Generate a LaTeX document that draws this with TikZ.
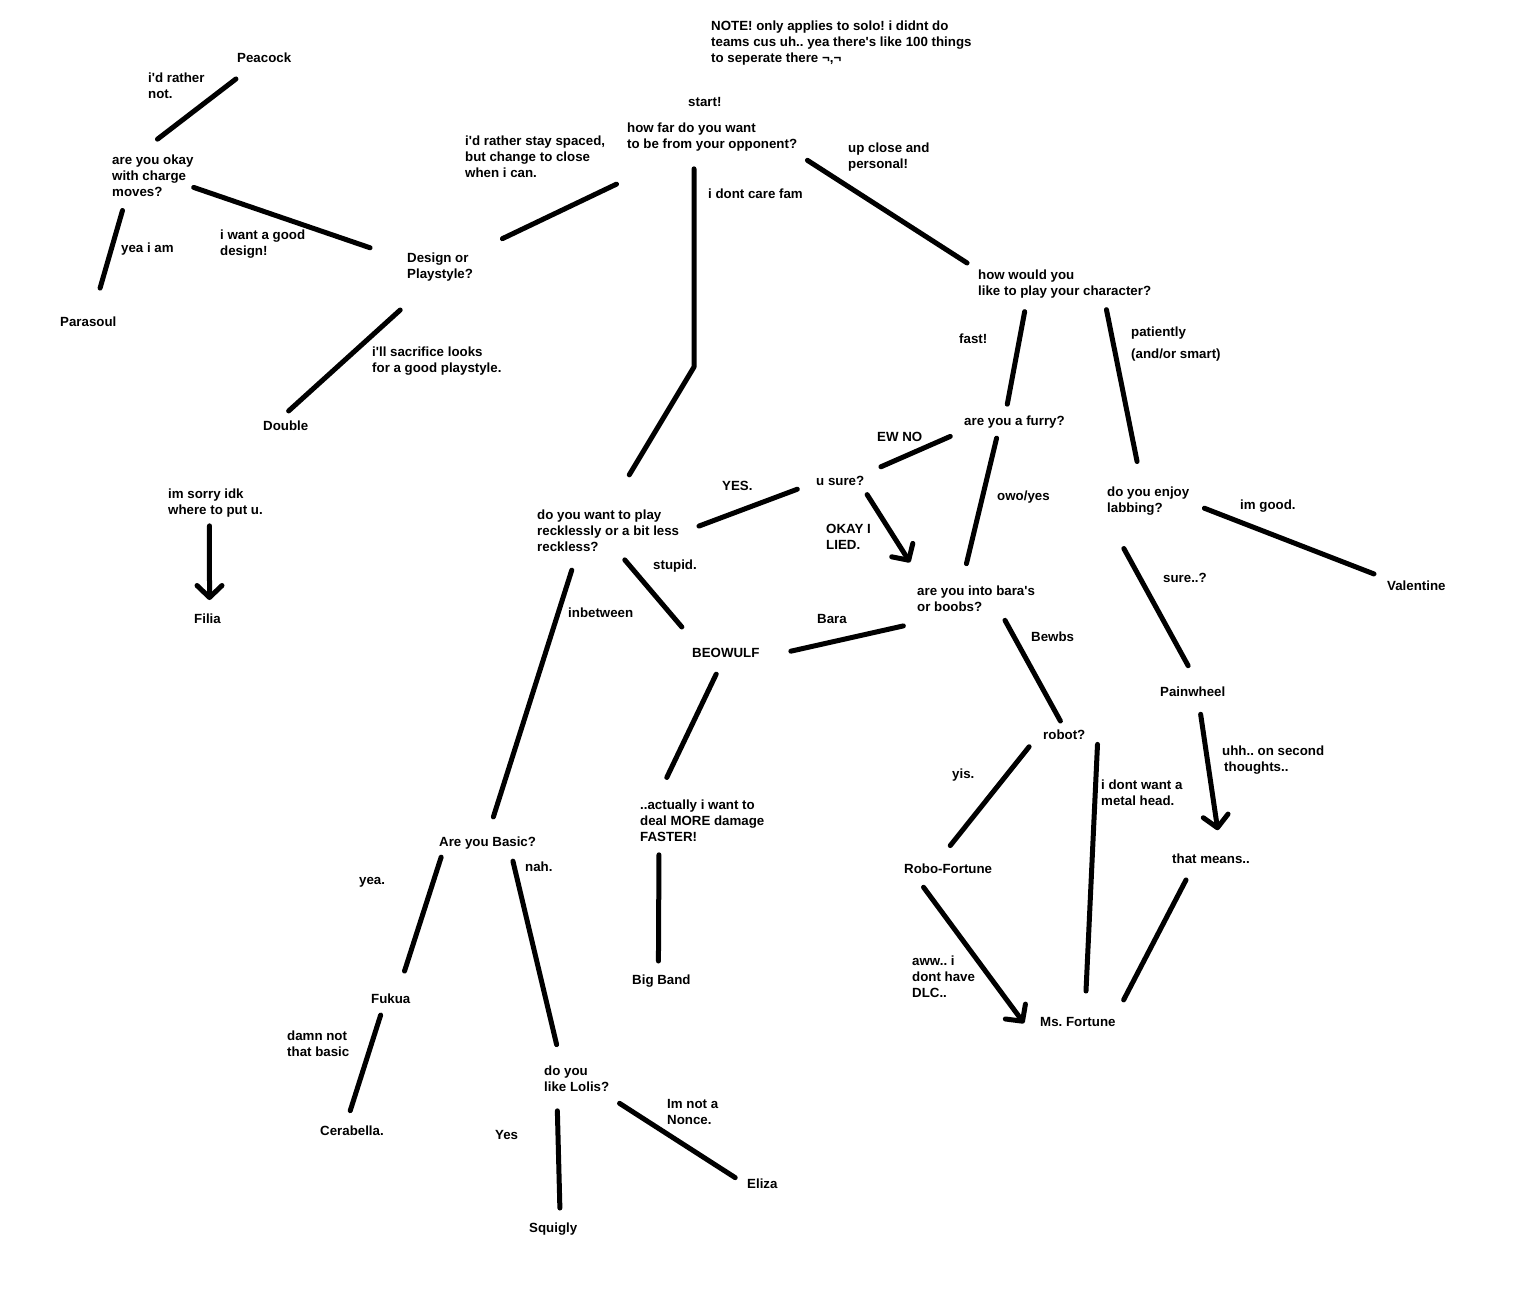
\documentclass[tikz,border=0pt]{standalone}
\usepackage{fontspec}
\newfontfamily\paintfont{Liberation Sans}[Ligatures=TeXOff]
\usetikzlibrary{arrows.meta}
\frenchspacing

\begin{document}
\begin{tikzpicture}[x=1pt, y=-1pt,
	txt/.style={anchor=north west, inner sep=0pt, align=left, font=\paintfont\bfseries\fontsize{13.3}{16}\selectfont, execute at begin node=\strut, execute at end node=\strut},
	link/.style={line width=5pt, line cap=round, line join=round},
	pointer/.style={link, -{Straight Barb[length=12pt, width=25pt, round]}}]

		\useasboundingbox (0,0) rectangle (1516,1296);

		\node[txt] (note) at (711,21) {NOTE! only applies to solo! i didnt do\\teams cus uh.. yea there's like 100 things\\to seperate there ¬,¬};
		\node[txt] (start) at (688,95) {start!};
		\node[txt] (q-far) at (627,123) {how far do you want\\to be from your opponent?};
		\node[txt] (l-spaced) at (465,136) {i'd rather stay spaced,\\but change to close\\when i can.};
		\node[txt] (l-close) at (848,143) {up close and\\personal!};
		\node[txt] (l-care) at (708,187) {i dont care fam};

		\node[txt] (c-peacock) at (237,51) {Peacock};
		\node[txt] (l-not) at (148,73) {i'd rather\\not.};
		\node[txt] (q-charge) at (112,155) {are you okay\\with charge\\moves?};
		\node[txt] (l-yeaiam) at (121,241) {yea i am};
		\node[txt] (c-parasoul) at (60,315) {Parasoul};
		\node[txt] (l-design) at (220,230) {i want a good\\design!};
		\node[txt] (q-design) at (407,253) {Design or\\Playstyle?};
		\node[txt] (l-sacrifice) at (372,347) {i'll sacrifice looks\\for a good playstyle.};
		\node[txt] (c-double) at (263,419) {Double};
		\node[txt] (l-idk) at (168,489) {im sorry idk\\where to put u.};
		\node[txt] (c-filia) at (194,612) {Filia};

		\node[txt] (q-play) at (978,270) {how would you\\like to play your character?};
		\node[txt] (l-fast) at (959,332) {fast!};
		\node[txt] (l-patient) at (1131,327) {patiently\\[6pt](and/or smart)};
		\node[txt] (q-furry) at (964,414) {are you a furry?};
		\node[txt] (l-ewno) at (877,430) {EW NO};
		\node[txt] (q-sure) at (816,474) {u sure?};
		\node[txt] (l-yes) at (722,479) {YES.};
		\node[txt] (l-lied) at (826,524) {OKAY I\\LIED.};
		\node[txt] (l-owo) at (997,489) {owo/yes};
		\node[txt] (q-lab) at (1107,487) {do you enjoy\\labbing?};
		\node[txt] (l-good) at (1240,498) {im good.};
		\node[txt] (c-valentine) at (1387,579) {Valentine};
		\node[txt] (l-sure) at (1163,571) {sure..?};
		\node[txt] (c-painwheel) at (1160,685) {Painwheel};
		\node[txt] (l-second) at (1222,746) {uhh.. on second\\\hspace*{2pt}thoughts..};
		\node[txt] (q-means) at (1172,852) {that means..};

		\node[txt] (q-bara) at (917,586) {are you into bara's\\or boobs?};
		\node[txt] (l-bara) at (817,612) {Bara};
		\node[txt] (c-beowulf) at (692,646) {BEOWULF};
		\node[txt] (l-bewbs) at (1031,630) {Bewbs};
		\node[txt] (q-robot) at (1043,728) {robot?};
		\node[txt] (l-yis) at (952,767) {yis.};
		\node[txt] (c-robo) at (904,862) {Robo-Fortune};
		\node[txt] (l-metal) at (1101,780) {i dont want a\\metal head.};
		\node[txt] (l-dlc) at (912,956) {aww.. i\\dont have\\DLC..};
		\node[txt] (c-fortune) at (1040,1015) {Ms. Fortune};

		\node[txt] (q-reckless) at (537,510) {do you want to play\\recklessly or a bit less\\reckless?};
		\node[txt] (l-stupid) at (653,558) {stupid.};
		\node[txt] (l-inbetween) at (568,606) {inbetween};
		\node[txt] (q-faster) at (640,800) {..actually i want to\\deal MORE damage\\FASTER!};
		\node[txt] (c-bigband) at (632,973) {Big Band};
		\node[txt] (q-basic) at (439,835) {Are you Basic?};
		\node[txt] (l-yea) at (359,873) {yea.};
		\node[txt] (l-nah) at (525,860) {nah.};
		\node[txt] (c-fukua) at (371,992) {Fukua};
		\node[txt] (l-damn) at (287,1031) {damn not\\that basic};
		\node[txt] (c-cerabella) at (320,1124) {Cerabella.};
		\node[txt] (q-lolis) at (544,1066) {do you\\like Lolis?};
		\node[txt] (l-nonce) at (667,1099) {Im not a\\Nonce.};
		\node[txt] (c-eliza) at (747,1177) {Eliza};
		\node[txt] (l-yes2) at (495,1128) {Yes};
		\node[txt] (c-squigly) at (529,1221) {Squigly};

		\coordinate (bend-care) at (694,367);

		\draw[link, shorten <=106pt, shorten >=69pt] (q-far.center) -- (q-design.center);
		\draw[link, shorten <=12pt, shorten >=13pt] (q-far.south east) -- (q-play.north west);
		\draw[link, shorten <=15pt, shorten >=41pt] (q-far.south -| bend-care) -- (bend-care) -- (q-reckless.north);

		\draw[link, shorten <=19pt, shorten >=26pt] ([xshift=14pt]c-peacock.south west) -- ([xshift=-16pt]q-charge.north);
		\draw[link, shorten <=9pt, shorten >=28pt] ([xshift=13pt]q-charge.south west) -- ([xshift=4pt]c-parasoul.north);
		\draw[link, shorten >=39pt] ([yshift=-9pt]q-charge.east) -- ([yshift=8pt]q-design.west);
		\draw[link, shorten <=39pt, shorten >=12pt] ([xshift=-11pt]q-design.south) -- ([xshift=-6pt]c-double.north);
		\draw[pointer, shorten <=6pt, shorten >=12pt] ([xshift=-6pt]l-idk.south) -- ([xshift=2pt]c-filia.north);

		\draw[link, shorten <=11pt, shorten >=10pt] ([xshift=-38pt]q-play.south) -- ([xshift=-9pt]q-furry.north);
		\draw[link, shorten <=9pt, shorten >=26pt] ([xshift=40pt]q-play.south) -- ([xshift=-6pt]q-lab.north);
		\draw[link, shorten <=15pt, shorten >=18pt] (q-furry.south west) -- (q-sure.north east);
		\draw[link, shorten <=8pt, shorten >=23pt] ([xshift=-16pt]q-furry.south) -- ([xshift=-15pt]q-bara.north);
		\draw[link, shorten <=20pt, shorten >=21pt] (q-sure.west) -- (q-reckless.east);
		\draw[pointer, shorten <=5pt, shorten >=28pt] (q-sure.south east) -- ([xshift=8pt]q-bara.north west);
		\draw[link, shorten <=16pt, shorten >=14pt] (q-lab.east) -- (c-valentine.north west);
		\draw[link, shorten <=35pt, shorten >=22pt] (q-lab.south west) -- ([xshift=6pt]c-painwheel.north);
		\draw[pointer, shorten <=13pt, shorten >=22pt] ([xshift=6pt]c-painwheel.south) -- ([xshift=10pt]q-means.north);
		\draw[link, shorten <=13pt, shorten >=17pt] ([xshift=-19pt]q-means.south) -- (c-fortune.north east);

		\draw[link, shorten <=14pt, shorten >=32pt] ([yshift=-6pt]q-bara.south west) -- ([yshift=-4pt]c-beowulf.east);
		\draw[link, shorten <=4pt, shorten >=8pt] ([xshift=27pt]q-bara.south) -- (q-robot.north);
		\draw[link, shorten <=3pt, shorten >=21pt] ([xshift=-12pt]q-robot.south west) -- ([xshift=-11pt]c-robo.north);
		\draw[link, shorten >=24pt] ([xshift=12pt]q-robot.south east) -- ([xshift=7pt]c-fortune.north);
		\draw[pointer, shorten <=11pt] ([xshift=13pt]c-robo.south west) -- ([xshift=-16pt]c-fortune.west);

		\draw[link, shorten <=4pt, shorten >=25pt] ([xshift=14pt]q-reckless.south) -- ([xshift=6pt]c-beowulf.north west);
		\draw[link, shorten <=14pt, shorten >=19pt] ([xshift=39pt]q-reckless.south west) -- (q-basic.north);
		\draw[link, shorten <=13pt, shorten >=25pt] ([xshift=-4pt]c-beowulf.south) -- ([xshift=16pt]q-faster.north west);
		\draw[link, shorten <=8pt, shorten >=12pt] ([xshift=19pt]q-faster.south west) -- ([xshift=-3pt]c-bigband.north);
		\draw[link, shorten <=6pt, shorten >=22pt] ([xshift=4pt]q-basic.south west) -- ([xshift=7pt]c-fukua.north);
		\draw[link, shorten <=10pt, shorten >=22pt] ([xshift=23pt]q-basic.south) -- ([xshift=-15pt]q-lolis.north);
		\draw[link, shorten <=7pt, shorten >=14pt] ([xshift=-8pt]c-fukua.south) -- ([xshift=-6pt]c-cerabella.north);
		\draw[link, shorten <=12pt, shorten >=14pt] (q-lolis.south east) -- (c-eliza.west);
		\draw[link, shorten <=14pt, shorten >=13pt] ([xshift=13pt]q-lolis.south west) -- ([xshift=7pt]c-squigly.north);

	\end{tikzpicture}
\end{document}
